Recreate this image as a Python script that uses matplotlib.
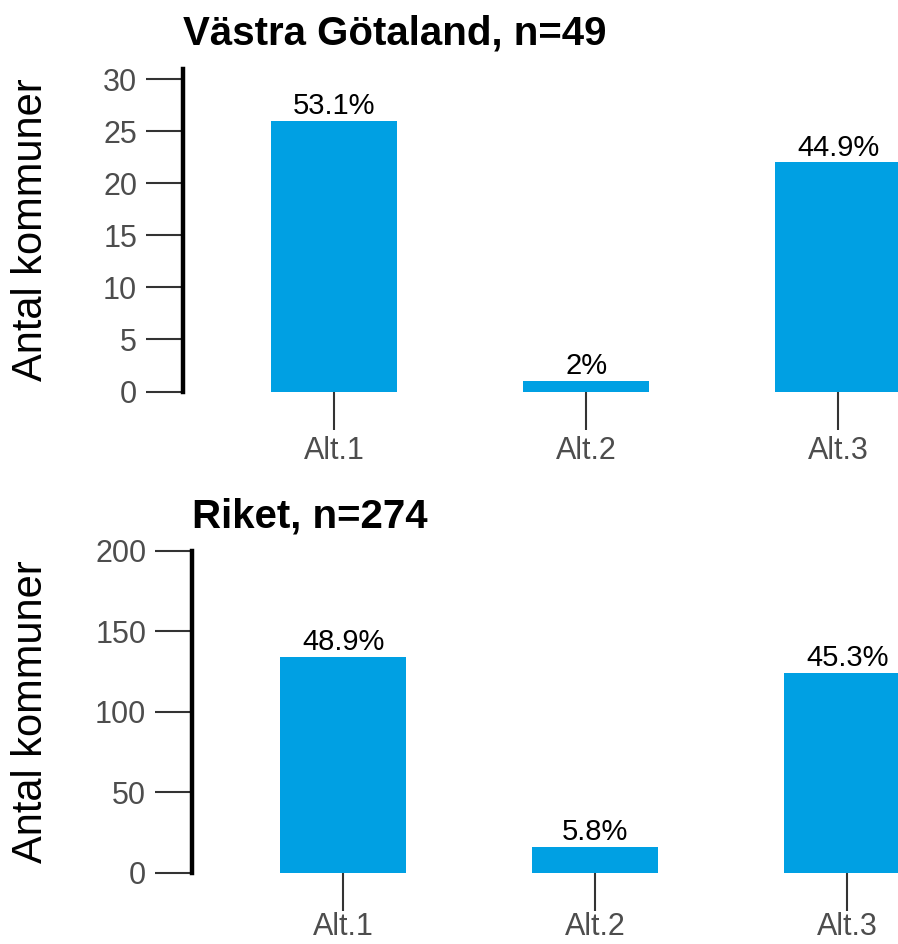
import matplotlib.pyplot as plt
import matplotlib

matplotlib.rcParams['font.family'] = ['Liberation Sans', 'DejaVu Sans']

# data
categories = ['Alt.1', 'Alt.2', 'Alt.3']
vg_counts = [26, 1, 22]
riket_counts = [134, 16, 124]
panels = [
    ('Västra Götaland', vg_counts, [0, 5, 10, 15, 20, 25, 30], 31),
    ('Riket', riket_counts, [0, 50, 100, 150, 200], 200),
]

BAR_COLOR = '#00A0E3'
TICK_COLOR = '#333333'
LABEL_COLOR = '#4D4D4D'

W, H = 898, 944
fig = plt.figure(figsize=(W / 100, H / 100), dpi=100)

# axes boxes in pixels: left spine x, y of zero, y of top, x tick label pad
boxes = [(183, 391.5, 68.6, 5), (192, 872.5, 551, 1.5)]
px_per_cat = 252


def pct_label(v, n):
    p = round(v / n * 100, 1)
    s = f'{p:.1f}'
    if s.endswith('.0'):
        s = s[:-2]
    return s + '%'


for (name, counts, yticks, ytop), (lx, y0, y1, xpad) in zip(panels, boxes):
    n = sum(counts)
    ax = fig.add_axes([lx / W, (H - y0) / H, (W - lx) / W, (y0 - y1) / H])
    x = list(range(len(categories)))
    ax.bar(x, counts, width=0.5, color=BAR_COLOR)
    for xi, v in zip(x, counts):
        ax.annotate(pct_label(v, n), (xi, v), xytext=(0, 0.5), textcoords='offset points',
                    ha='center', va='bottom', fontsize=21, color='black')

    ax.set_xlim(-0.6, -0.6 + (W - lx) / px_per_cat)
    ax.set_ylim(0, ytop)
    ax.set_yticks(yticks)
    ax.set_xticks(x)
    ax.set_xticklabels(categories)

    for s in ['top', 'right', 'bottom']:
        ax.spines[s].set_visible(False)
    ax.spines['left'].set_linewidth(3.2)
    ax.spines['left'].set_color('black')

    ax.tick_params(axis='both', length=27, width=1.5, color=TICK_COLOR,
                   labelcolor=LABEL_COLOR, labelsize=22)
    ax.tick_params(axis='x', pad=xpad)
    ax.tick_params(axis='y', pad=6)

    ax.set_title(f'{name}, n={n}', loc='left', fontsize=29, fontweight='bold', pad=17)
    ax.set_ylabel('Antal kommuner', fontsize=30)
    ax.yaxis.set_label_coords((51 - lx) / (W - lx), 0.5)

fig.savefig('out.png', dpi=100)
